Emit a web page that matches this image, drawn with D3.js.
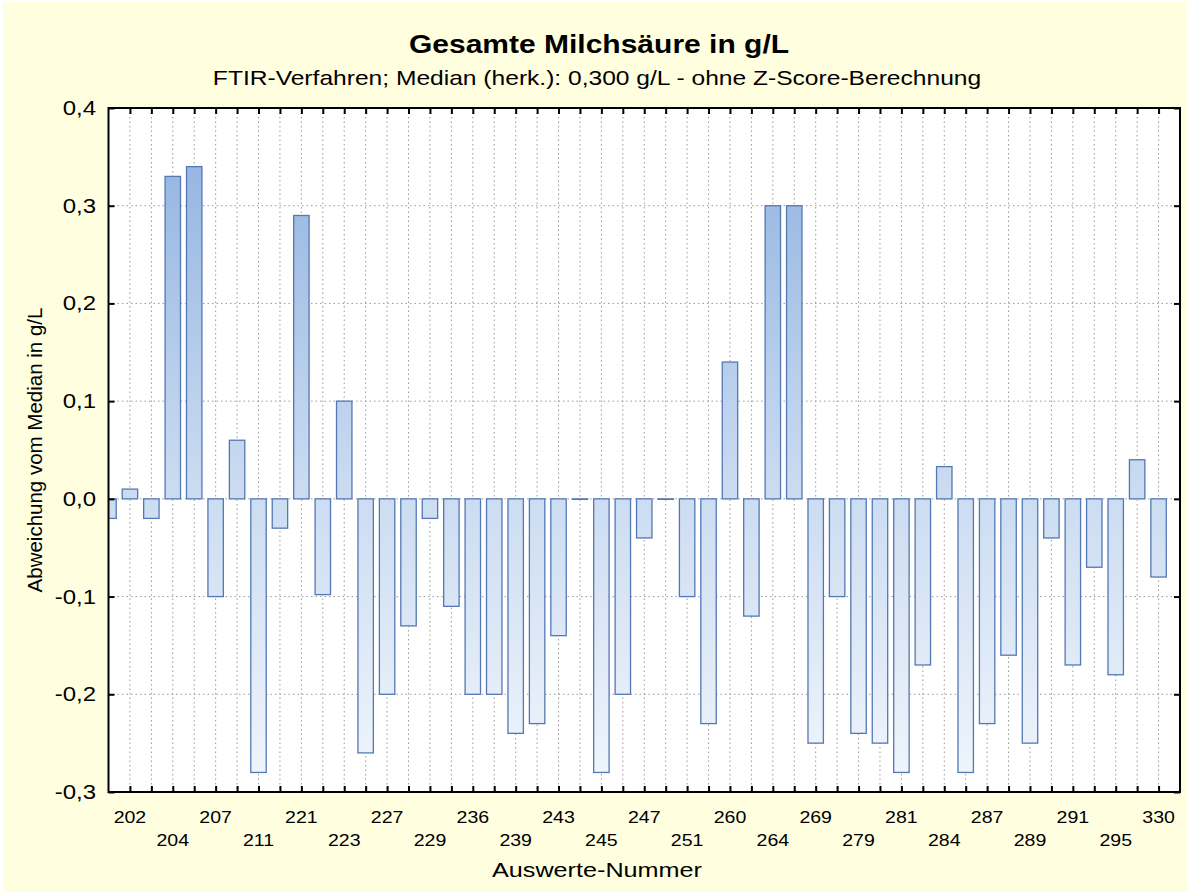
<!DOCTYPE html>
<html>
<head>
<meta charset="utf-8">
<script src="https://cdn.jsdelivr.net/npm/d3@7"></script>
<style>
  body { margin: 0; background: #fff; }
  text { font-family: Arial, "Liberation Sans", sans-serif; fill: #000; }
</style>
</head>
<body>
<script>
// values per Auswerte-Nummer position (only every second one is labelled)
var values = [-0.02, 0.01, -0.02, 0.33, 0.34, -0.10, 0.06, -0.28, -0.03, 0.29,
              -0.098, 0.10, -0.26, -0.20, -0.13, -0.02, -0.11, -0.20, -0.20, -0.24,
              -0.23, -0.14, 0.0, -0.28, -0.20, -0.04, 0.0, -0.10, -0.23, 0.14,
              -0.12, 0.30, 0.30, -0.25, -0.10, -0.24, -0.25, -0.28, -0.17, 0.033,
              -0.28, -0.23, -0.16, -0.25, -0.04, -0.17, -0.07, -0.18, 0.04, -0.08];
var tickLabels = ["202", "204", "207", "211", "221", "223", "227", "229", "236", "239",
                  "243", "245", "247", "251", "260", "264", "269", "279", "281", "284",
                  "287", "289", "291", "295", "330"];
var yTicks = [-0.3, -0.2, -0.1, 0.0, 0.1, 0.2, 0.3, 0.4];

var title = "Gesamte Milchsäure in g/L";
var subtitle = "FTIR-Verfahren; Median (herk.): 0,300 g/L - ohne Z-Score-Berechnung";

var W = 1190, H = 894;
var m = {left: 108.5, right: 1180, top: 108, bottom: 792};
var SX = 1.2; // the original picture is a bit wider than tall, text too

var svg = d3.select("body").append("svg")
            .attr("width", W).attr("height", H);

// yellow page background
svg.append("rect").attr("x", 3).attr("y", 2).attr("width", W - 6).attr("height", H - 4)
   .style("fill", "#ffffe0");

var x = d3.scaleLinear().domain([0, 50]).range([m.left, m.right]);
var y = d3.scaleLinear().domain([-0.3, 0.4]).range([m.bottom, m.top]);
var step = x(1) - x(0);
var barW = step * 0.72;

// horizontally stretched text
function stext(px, py, str, size, anchor, sx, bold) {
  var t = svg.append("g").attr("transform", "translate(" + px + "," + py + ") scale(" + sx + ",1)")
     .append("text").attr("text-anchor", anchor).style("font-size", size + "px").text(str);
  if (bold) t.style("font-weight", "bold");
  return t;
}

// plot area
svg.append("rect").attr("x", m.left).attr("y", m.top)
   .attr("width", m.right - m.left).attr("height", m.bottom - m.top)
   .style("fill", "#fff");

var defs = svg.append("defs");
defs.append("clipPath").attr("id", "plotclip").append("rect")
    .attr("x", m.left).attr("y", m.top)
    .attr("width", m.right - m.left).attr("height", m.bottom - m.top);

var grad = defs.append("linearGradient").attr("id", "barfill")
    .attr("gradientUnits", "userSpaceOnUse")
    .attr("x1", 0).attr("x2", 0).attr("y1", m.top).attr("y2", m.bottom);
grad.append("stop").attr("offset", "0%").attr("stop-color", "#8db0df");
grad.append("stop").attr("offset", "55%").attr("stop-color", "#cadbf1");
grad.append("stop").attr("offset", "100%").attr("stop-color", "#f1f6fc");

// grid
var grid = svg.append("g");
grid.selectAll(".vg").data(d3.range(1, 50)).enter().append("line")
    .attr("x1", function(d) { return x(d); }).attr("x2", function(d) { return x(d); })
    .attr("y1", m.top).attr("y2", m.bottom)
    .style("stroke", "#9a9a9a").style("stroke-width", 1).style("stroke-dasharray", "1.5,3");
grid.selectAll(".hg").data(yTicks.slice(1, -1)).enter().append("line")
    .attr("x1", m.left).attr("x2", m.right)
    .attr("y1", function(d) { return y(d); }).attr("y2", function(d) { return y(d); })
    .style("stroke", "#9a9a9a").style("stroke-width", 1).style("stroke-dasharray", "1.5,3");

// bars
svg.append("g").attr("clip-path", "url(#plotclip)")
   .selectAll("rect").data(values).enter().append("rect")
   .attr("x", function(d, i) { return x(i) - barW / 2; })
   .attr("width", barW)
   .attr("y", function(d) { return y(Math.max(0, d)); })
   .attr("height", function(d) { return Math.max(0.5, Math.abs(y(d) - y(0))); })
   .style("fill", "url(#barfill)")
   .style("stroke", "#5478b4").style("stroke-width", 1.3);

// ticks, all pointing inward
var xt = d3.range(1, 50);
svg.append("g").attr("transform", "translate(" + m.left + ",0)")
   .call(d3.axisLeft(y).tickValues(yTicks).tickSize(-6).tickFormat(""));
svg.append("g").attr("transform", "translate(" + m.right + ",0)")
   .call(d3.axisRight(y).tickValues(yTicks).tickSize(-6).tickFormat(""));
svg.append("g").attr("transform", "translate(0," + m.bottom + ")")
   .call(d3.axisBottom(x).tickValues(xt).tickSize(-6).tickFormat(""));
svg.append("g").attr("transform", "translate(0," + m.top + ")")
   .call(d3.axisTop(x).tickValues(xt).tickSize(-6).tickFormat(""));
svg.selectAll(".domain").remove();
svg.selectAll(".tick line").style("stroke", "#000").style("stroke-width", 2);

svg.append("rect").attr("x", m.left).attr("y", m.top)
   .attr("width", m.right - m.left).attr("height", m.bottom - m.top)
   .style("fill", "none").style("stroke", "#000").style("stroke-width", 2);

// y tick labels
var fmt = function(d) { return d3.format(".1f")(d).replace(".", ",").replace("\u2212", "-"); };
yTicks.forEach(function(d) {
  stext(96, y(d) + 7, fmt(d), 20, "end", SX, false);
});

// x tick labels, alternating rows
tickLabels.forEach(function(d, k) {
  stext(x(2 * k + 1), k % 2 === 0 ? m.bottom + 31 : m.bottom + 54, d, 17, "middle", 1.15, false);
});

// titles
stext(599, 53, title, 25, "middle", SX, true);
stext(597, 85, subtitle, 20.5, "middle", SX, false);
stext(597, 877, "Auswerte-Nummer", 21, "middle", SX, false);
svg.append("text").attr("transform", "translate(42,450) rotate(-90)")
   .attr("text-anchor", "middle").style("font-size", "20.5px")
   .text("Abweichung vom Median in g/L");
</script>
</body>
</html>
